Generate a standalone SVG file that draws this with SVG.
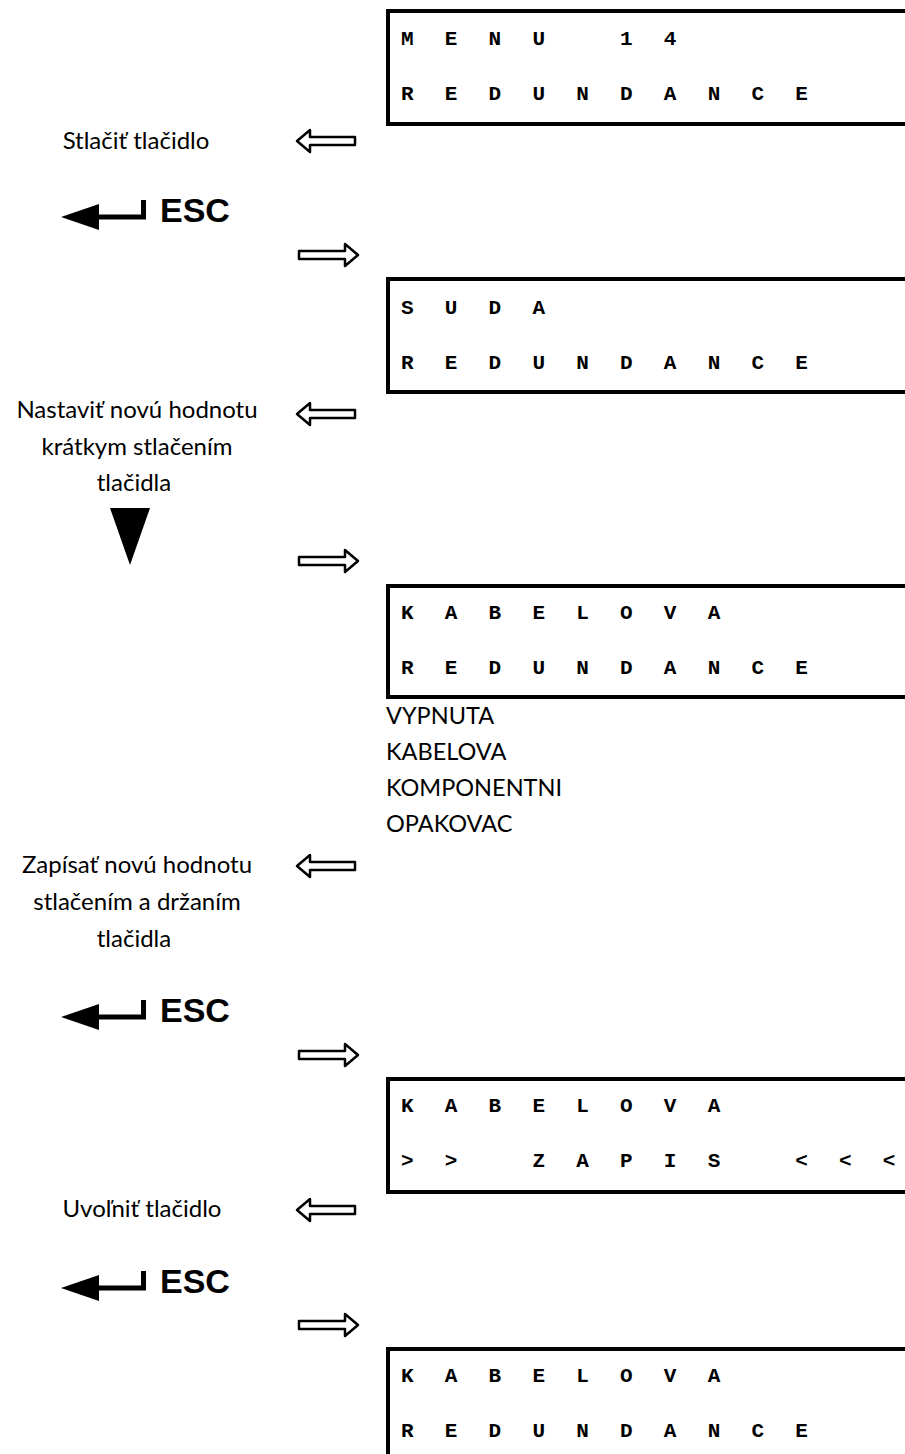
<svg xmlns="http://www.w3.org/2000/svg" width="905" height="1454" viewBox="0 0 905 1454">
<style>
.box{fill:none;stroke:#000;stroke-width:4}
.lcd{font-family:"Liberation Mono","Courier New",monospace;font-weight:bold;font-size:21px;letter-spacing:9.3px;fill:#000}
.lbl{font-family:Lato,"Noto Sans",sans-serif;font-size:24px;fill:#000}
.opt{font-family:Lato,"Noto Sans",sans-serif;font-size:23.5px;fill:#000}
.esc{font-family:"Liberation Sans",Arial,sans-serif;font-weight:bold;font-size:34px;fill:#000}
.oarr{fill:#fff;stroke:#000;stroke-width:2.5;stroke-linejoin:round}
</style>
<defs>
<path id="larr" class="oarr" d="M297,0 L310,-11 L310,-4 L355,-4 L355,4 L310,4 L310,11 Z"/>
<path id="rarr" class="oarr" d="M299,-4 L345,-4 L345,-11 L358,0 L345,11 L345,4 L299,4 Z"/>
<g id="escicon">
<path d="M61,217 L99,204 L99,230 Z" fill="#000"/>
<path d="M98,217 L143.5,217 L143.5,200" fill="none" stroke="#000" stroke-width="5"/>
<text class="esc" x="160" y="222">ESC</text>
</g>
</defs>

<g id="connectors">
<use href="#larr" transform="translate(0,141)"/>
<use href="#rarr" transform="translate(0,255)"/>
<use href="#larr" transform="translate(0,414)"/>
<use href="#rarr" transform="translate(0,561)"/>
<use href="#larr" transform="translate(0,866)"/>
<use href="#rarr" transform="translate(0,1055)"/>
<use href="#larr" transform="translate(0,1210)"/>
<use href="#rarr" transform="translate(0,1325)"/>
</g>

<g id="display1">
<rect class="box" x="388" y="11" width="600" height="113"/>
<text class="lcd" x="401" y="45" xml:space="preserve">M E N U   1 4</text>
<text class="lcd" x="401" y="100">R E D U N D A N C E</text>
</g>
<g id="step1">
<text class="lbl" x="136" y="149" text-anchor="middle">Stlačiť tlačidlo</text>
<use href="#escicon"/>
</g>

<g id="display2">
<rect class="box" x="388" y="279" width="600" height="113"/>
<text class="lcd" x="401" y="314">S U D A</text>
<text class="lcd" x="401" y="369">R E D U N D A N C E</text>
</g>
<g id="step2">
<text class="lbl" text-anchor="middle" x="137" y="418">Nastaviť novú hodnotu</text>
<text class="lbl" text-anchor="middle" x="137" y="455">krátkym stlačením</text>
<text class="lbl" text-anchor="middle" x="134" y="491">tlačidla</text>
<path d="M110,508 L150,508 L130,565 Z" fill="#000"/>
</g>

<g id="display3">
<rect class="box" x="388" y="586" width="600" height="111"/>
<text class="lcd" x="401" y="619">K A B E L O V A</text>
<text class="lcd" x="401" y="674">R E D U N D A N C E</text>
</g>
<g id="options">
<text class="opt" x="386" y="724">VYPNUTA</text>
<text class="opt" x="386" y="760">KABELOVA</text>
<text class="opt" x="386" y="796">KOMPONENTNI</text>
<text class="opt" x="386" y="832">OPAKOVAC</text>
</g>
<g id="step3">
<text class="lbl" text-anchor="middle" x="137" y="873">Zapísať novú hodnotu</text>
<text class="lbl" text-anchor="middle" x="137" y="910">stlačením a držaním</text>
<text class="lbl" text-anchor="middle" x="134" y="947">tlačidla</text>
<use href="#escicon" transform="translate(0,800)"/>
</g>

<g id="display4">
<rect class="box" x="388" y="1079" width="600" height="113"/>
<text class="lcd" x="401" y="1112">K A B E L O V A</text>
<text class="lcd" x="401" y="1167" xml:space="preserve">&gt; &gt;   Z A P I S   &lt; &lt; &lt;</text>
</g>
<g id="step4">
<text class="lbl" x="142" y="1217" text-anchor="middle">Uvoľniť tlačidlo</text>
<use href="#escicon" transform="translate(0,1071)"/>
</g>

<g id="display5">
<rect class="box" x="388" y="1349" width="600" height="120"/>
<text class="lcd" x="401" y="1382">K A B E L O V A</text>
<text class="lcd" x="401" y="1437">R E D U N D A N C E</text>
</g>
</svg>
